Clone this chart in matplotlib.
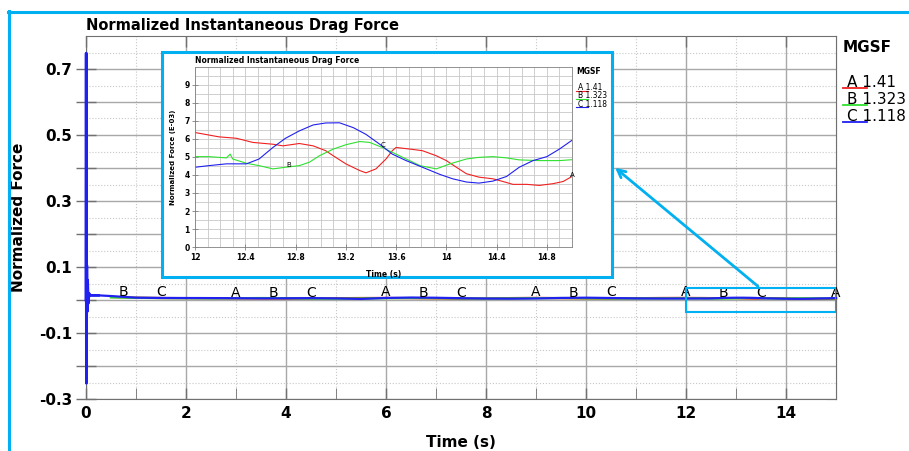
import numpy as np
import matplotlib.pyplot as plt
from matplotlib.lines import Line2D
from matplotlib.patches import Rectangle, FancyArrowPatch

plt.rcParams['font.family'] = 'DejaVu Sans'

W, H = 909, 451
SKY = '#00b0f0'
RED, GREEN, BLUE = '#f02020', '#30e030', '#2020f0'

# start-up transient of run C (raw normalized force)
t_start = [0.0, 0.004, 0.008, 0.016, 0.024, 0.032, 0.045, 0.06, 0.08, 0.25]
c_start = [0.0, 0.748, -0.252, 0.105, -0.035, 0.06, -0.01, 0.02, 0.014, 0.014]

# coarse record 0.5 .. 11.5 s, force in E-03
t_mid = [0.5, 1.0, 1.5, 2.0, 2.5, 3.0, 3.5, 4.0, 4.5, 5.0, 5.5, 6.0,
         6.5, 7.0, 7.5, 8.0, 8.5, 9.0, 9.5, 10.0, 10.5, 11.0, 11.5]
a_mid = [9.0, 7.0, 6.0, 5.6, 5.3, 5.0, 4.6, 4.2, 4.6, 5.4, 6.0, 6.2,
         5.6, 4.8, 4.2, 4.6, 5.8, 6.4, 5.6, 4.6, 4.2, 5.4, 6.1]
b_mid = [8.0, 6.5, 5.8, 5.4, 5.0, 5.4, 6.0, 5.5, 4.4, 4.0, 4.6, 5.4,
         6.0, 5.6, 4.8, 4.4, 4.8, 5.6, 6.0, 5.2, 4.6, 4.6, 4.9]
c_mid = [12.0, 7.0, 6.2, 6.0, 5.8, 5.4, 5.0, 5.2, 5.6, 4.8, 3.2, 6.2,
         7.4, 6.8, 5.4, 4.4, 4.0, 4.6, 6.2, 7.0, 6.0, 4.8, 4.4]

# detailed window 12 .. 15 s, force in E-03
t_a = [12.0, 12.19, 12.33, 12.46, 12.62, 12.7, 12.83, 12.94, 13.04, 13.1,
       13.2, 13.31, 13.36, 13.44, 13.52, 13.57, 13.6, 13.71, 13.81, 13.92,
       14.0, 14.08, 14.16, 14.26, 14.37, 14.45, 14.53, 14.64, 14.74, 14.85,
       14.93, 15.0]
a_win = [6.36, 6.12, 6.04, 5.81, 5.71, 5.62, 5.75, 5.62, 5.35, 5.07,
         4.62, 4.25, 4.12, 4.34, 4.89, 5.35, 5.53, 5.44, 5.35, 5.07,
         4.8, 4.43, 4.07, 3.88, 3.79, 3.64, 3.48, 3.48, 3.42, 3.52,
         3.64, 3.92]
t_b = [12.0, 12.11, 12.25, 12.28, 12.3, 12.41, 12.51, 12.62, 12.72, 12.83,
       12.91, 12.99, 13.1, 13.2, 13.31, 13.39, 13.49, 13.57, 13.68, 13.79,
       13.92, 14.03, 14.16, 14.26, 14.37, 14.48, 14.58, 14.74, 14.9, 15.0]
b_win = [5.02, 5.02, 4.95, 5.16, 4.89, 4.65, 4.52, 4.34, 4.43, 4.52,
         4.71, 5.07, 5.44, 5.68, 5.86, 5.81, 5.53, 5.26, 4.89, 4.52,
         4.34, 4.62, 4.89, 4.98, 5.02, 4.95, 4.84, 4.8, 4.8, 4.85]
t_c = [12.0, 12.11, 12.25, 12.41, 12.51, 12.62, 12.72, 12.83, 12.94, 13.04,
       13.15, 13.26, 13.36, 13.47, 13.57, 13.68, 13.81, 13.95, 14.05, 14.16,
       14.26, 14.37, 14.48, 14.58, 14.69, 14.8, 14.9, 15.0]
c_win = [4.43, 4.52, 4.62, 4.62, 4.89, 5.53, 6.04, 6.45, 6.78, 6.89,
         6.9, 6.63, 6.26, 5.71, 5.16, 4.8, 4.43, 4.03, 3.79, 3.61,
         3.55, 3.66, 3.92, 4.43, 4.8, 5.02, 5.44, 5.93]

runs = ['A', 'B', 'C']
mgsf = ['1.41', '1.323', '1.118']
colors = [RED, GREEN, BLUE]
mark_at = {'A': [3, 6, 9, 12, 15], 'B': [0.75, 3.75, 6.75, 9.75, 12.75],
           'C': [1.5, 4.5, 7.5, 10.5, 13.5]}

# full records in raw units
t_full = {
    'A': np.array(t_mid + t_a),
    'B': np.array(t_mid + t_b),
    'C': np.array(t_start + t_mid + t_c),
}
f_full = {
    'A': np.array(a_mid + a_win) * 1e-3,
    'B': np.array(b_mid + b_win) * 1e-3,
    'C': np.concatenate([c_start, np.array(c_mid + c_win) * 1e-3]),
}
t_zoom = {'A': t_a, 'B': t_b, 'C': t_c}
f_zoom = {'A': a_win, 'B': b_win, 'C': c_win}


def fx(px):
    return px / W


def fy(py):
    return 1 - py / H


fig = plt.figure(figsize=(W / 100, H / 100), dpi=100)

# ---- main axes ----
ax = fig.add_axes([fx(86), fy(399), fx(836) - fx(86), fy(36) - fy(399)])
ax.set_xlim(0, 15)
ax.set_ylim(-0.3, 0.8)

xt = list(range(0, 16, 2))
ax.set_xticks(xt)
ax.set_xticklabels([str(v) for v in xt])
ax.set_xticks(list(range(1, 16, 2)), minor=True)
yt = np.round(np.arange(-0.3, 0.75, 0.1), 1)
ax.set_yticks(yt)
ax.set_yticklabels([f'{v:g}' if i % 2 == 0 else '' for i, v in enumerate(yt)])
ax.set_yticks(np.round(np.arange(-0.25, 0.8, 0.1), 2), minor=True)

ax.grid(which='major', color='#a8a8a8', lw=1.0, ls='-')
ax.grid(which='minor', color='#c8c8c8', lw=0.8, ls=':')
ax.set_axisbelow(True)
ax.tick_params(axis='x', which='major', direction='in', length=8, width=1,
               color='#707070', labelsize=11, top=True, pad=5)
ax.tick_params(axis='x', which='minor', direction='in', length=8,
               color='#707070', bottom=True, top=False)
ax.tick_params(axis='y', which='major', direction='inout', length=14, width=1,
               color='#707070', labelsize=11, right=False, pad=3)
ax.tick_params(axis='y', which='minor', length=0)
for lab in ax.get_xticklabels() + ax.get_yticklabels():
    lab.set_fontweight('bold')
for sp in ax.spines.values():
    sp.set_color('#707070')

# inward ticks on the right edge
rax = ax.twinx()
rax.set_zorder(-1)
rax.set_ylim(ax.get_ylim())
rax.set_yticks(yt)
rax.set_yticklabels([])
rax.tick_params(axis='y', direction='in', length=7, color='#707070')
for side in ['left', 'top', 'bottom']:
    rax.spines[side].set_visible(False)
rax.spines['right'].set_color('#707070')

for r, c in zip(runs, colors):
    ax.plot(t_full[r], f_full[r], color=c, lw=1.6, zorder=3, clip_on=False)
ax.plot(t_start, c_start, color=BLUE, lw=2.0, zorder=3, clip_on=False)
for r in runs:
    for t in mark_at[r]:
        ax.annotate(r, (t, np.interp(t, t_full[r], f_full[r])),
                    xytext=(0, 4), textcoords='offset points',
                    ha='center', va='center', fontsize=10, zorder=4)

ax.set_title('Normalized Instantaneous Drag Force', loc='left',
             fontsize=10.5, fontweight='bold', pad=4)
ax.set_xlabel('Time (s)', fontsize=11, fontweight='bold', labelpad=10)
ax.set_ylabel('Normalized Force', fontsize=11, fontweight='bold', labelpad=9)

# zoom window marker on the main plot
ax.add_patch(Rectangle((12, -0.035), 3, 0.07, fill=False, ec=SKY, lw=1.5, zorder=5))

# legend at the right
fig.text(fx(843), fy(47), 'MGSF', fontsize=11, fontweight='bold', va='center')
for i, (r, m, c) in enumerate(zip(runs, mgsf, colors)):
    yb = 87 + 17 * i
    fig.text(fx(847), fy(yb), f'{r} {m}', fontsize=11, va='baseline')
    fig.add_artist(Line2D([fx(843), fx(867)], [fy(yb + 0.5), fy(yb + 0.5)],
                          color=c, lw=1.3))

# ---- inset panel ----
box = Rectangle((fx(162), fy(277)), fx(612) - fx(162), fy(52) - fy(277),
                transform=fig.transFigure, fc='white', ec=SKY, lw=2.2, zorder=1)
fig.add_artist(box)

ins = fig.add_axes([fx(195), fy(247), fx(572) - fx(195), fy(67) - fy(247)])
ins.set_zorder(2)
ins.set_xlim(12, 15)
ins.set_ylim(0, 10)
ixt = [12, 12.4, 12.8, 13.2, 13.6, 14, 14.4, 14.8]
ins.set_xticks(ixt)
ins.set_xticklabels([f'{v:g}' for v in ixt])
ins.set_xticks(np.round(np.arange(12, 15.01, 0.1), 1), minor=True)
ins.set_yticks(range(0, 10))
ins.set_yticks(np.arange(0.5, 10, 1.0), minor=True)
ins.grid(which='both', color='#c8c8c8', lw=0.6)
ins.set_axisbelow(True)
ins.tick_params(which='major', direction='inout', length=4, width=0.6,
                color='#808080', labelsize=5.5, pad=2)
ins.tick_params(which='minor', length=0)
for lab in ins.get_xticklabels() + ins.get_yticklabels():
    lab.set_fontweight('bold')
for sp in ins.spines.values():
    sp.set_color('#808080')
    sp.set_linewidth(0.6)

for r, c in zip(runs, colors):
    ins.plot(t_zoom[r], f_zoom[r], color=c, lw=0.8)
for r in runs:
    for t in mark_at[r]:
        if 12.5 < t <= 15:
            ins.text(t, np.interp(t, t_zoom[r], f_zoom[r]) + 0.1, r,
                     ha='center', va='center', fontsize=5)

ins.set_title('Normalized Instantaneous Drag Force', loc='left',
              fontsize=5.5, fontweight='bold', pad=3)
ins.set_xlabel('Time (s)', fontsize=5.5, fontweight='bold', labelpad=6)
ins.set_ylabel('Normalized Force (E-03)', fontsize=5, fontweight='bold', labelpad=6)

fig.text(fx(576), fy(72), 'MGSF', fontsize=5.5, fontweight='bold', va='center')
for i, (r, m, c) in enumerate(zip(runs, mgsf, colors)):
    yb = 90 + 8.3 * i
    fig.text(fx(578), fy(yb), f'{r} {m}', fontsize=5.5, va='baseline')
    fig.add_artist(Line2D([fx(576), fx(588)], [fy(yb + 0.8), fy(yb + 0.8)],
                          color=c, lw=0.8))

# pointer from the zoom window to the inset
fig.add_artist(FancyArrowPatch(
    (fx(760), fy(288)), (fx(613), fy(166)), transform=fig.transFigure,
    arrowstyle='->', mutation_scale=14, color=SKY, lw=2, zorder=3))

# frame around the figure
fig.add_artist(Line2D([fx(9), fx(9)], [fy(11), 0], color=SKY, lw=2.2))
fig.add_artist(Line2D([fx(8), 1], [fy(11.5), fy(11.5)], color=SKY, lw=2.2))

fig.savefig('out.png', dpi=100)
